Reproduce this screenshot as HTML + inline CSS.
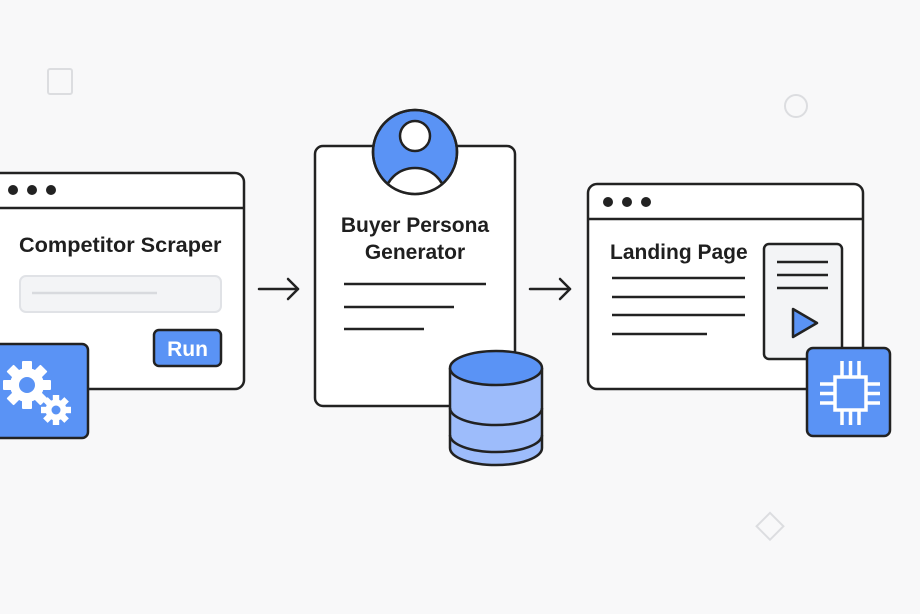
<!DOCTYPE html>
<html><head><meta charset="utf-8"><style>
html,body{margin:0;padding:0;background:#f8f8f9;}
svg{display:block}
text{font-family:"Liberation Sans",sans-serif;font-weight:bold;fill:#1f1f1f}
</style></head><body>
<svg width="920" height="614" viewBox="0 0 920 614" xmlns="http://www.w3.org/2000/svg">
<defs><clipPath id="av"><circle cx="415" cy="152" r="41"/></clipPath></defs>
<rect width="920" height="614" fill="#f8f8f9"/>
<rect x="48" y="69" width="24" height="25" rx="2" fill="none" stroke="#dcdde0" stroke-width="2"/>
<circle cx="796" cy="106" r="11" fill="none" stroke="#dcdde0" stroke-width="2"/>
<rect x="760" y="517" width="19" height="19" fill="none" stroke="#dcdde0" stroke-width="2" transform="rotate(45 770 527)"/>

<rect x="-10" y="173" width="254" height="216" rx="9" fill="#fff" stroke="#222" stroke-width="2.5"/>
<line x1="-10" y1="208" x2="244" y2="208" stroke="#222" stroke-width="2.5"/>
<circle cx="13" cy="190" r="5" fill="#222"/><circle cx="32" cy="190" r="5" fill="#222"/><circle cx="51" cy="190" r="5" fill="#222"/>
<text x="19" y="252" font-size="21.7">Competitor Scraper</text>
<rect x="20" y="276" width="201" height="36" rx="6" fill="#f3f4f6" stroke="#e0e2e6" stroke-width="2"/>
<line x1="32" y1="293" x2="157" y2="293" stroke="#d8dade" stroke-width="2.5"/>
<rect x="154" y="330" width="67" height="36" rx="5" fill="#5a93f5" stroke="#222" stroke-width="2.5"/>
<text x="187.5" y="356" font-size="21" text-anchor="middle" style="fill:#fff">Run</text>
<rect x="-10" y="344" width="98" height="94" rx="6" fill="#5a93f5" stroke="#222" stroke-width="2.5"/>
<g fill="#fff">
<circle cx="27" cy="385" r="17"/>
<g transform="translate(27 385)">
<rect x="-5" y="-24" width="10" height="48" rx="1"/>
<rect x="-5" y="-24" width="10" height="48" rx="1" transform="rotate(45)"/>
<rect x="-5" y="-24" width="10" height="48" rx="1" transform="rotate(90)"/>
<rect x="-5" y="-24" width="10" height="48" rx="1" transform="rotate(135)"/>
</g>
<circle cx="56" cy="410" r="10.5"/>
<g transform="translate(56 410)">
<rect x="-3.2" y="-15" width="6.4" height="30"/>
<rect x="-3.2" y="-15" width="6.4" height="30" transform="rotate(45)"/>
<rect x="-3.2" y="-15" width="6.4" height="30" transform="rotate(90)"/>
<rect x="-3.2" y="-15" width="6.4" height="30" transform="rotate(135)"/>
</g>
</g>
<circle cx="27" cy="385" r="8" fill="#5a93f5"/>
<circle cx="56" cy="410" r="4.5" fill="#5a93f5"/>

<g stroke="#222" stroke-width="2.5" fill="none" stroke-linecap="round" stroke-linejoin="round">
<line x1="259" y1="289" x2="298" y2="289"/><polyline points="288,279 298,289 288,299"/>
<line x1="530" y1="289" x2="570" y2="289"/><polyline points="560,279 570,289 560,299"/>
</g>

<rect x="315" y="146" width="200" height="260" rx="8" fill="#fff" stroke="#222" stroke-width="2.5"/>
<circle cx="415" cy="152" r="42" fill="#5a93f5" stroke="#222" stroke-width="2.5"/>
<g clip-path="url(#av)">
<ellipse cx="415" cy="196" rx="30" ry="28" fill="#fff" stroke="#222" stroke-width="2.5"/>
</g>
<circle cx="415" cy="152" r="42" fill="none" stroke="#222" stroke-width="2.5"/>
<circle cx="415" cy="136" r="15" fill="#fff" stroke="#222" stroke-width="2.5"/>
<text x="415" y="232" font-size="21" text-anchor="middle">Buyer Persona</text>
<text x="415" y="259" font-size="21" text-anchor="middle">Generator</text>
<g stroke="#222" stroke-width="2.5">
<line x1="344" y1="284" x2="486" y2="284"/>
<line x1="344" y1="307" x2="454" y2="307"/>
<line x1="344" y1="329" x2="424" y2="329"/>
</g>
<g stroke="#222" stroke-width="2.5">
<path d="M450 368 L450 448 A46 17 0 0 0 542 448 L542 368" fill="#9dbcfb"/>
<path d="M450 408 A46 17 0 0 0 542 408" fill="none"/>
<path d="M450 435 A46 17 0 0 0 542 435" fill="none"/>
<ellipse cx="496" cy="368" rx="46" ry="17" fill="#5a93f5"/>
</g>

<rect x="588" y="184" width="275" height="205" rx="9" fill="#fff" stroke="#222" stroke-width="2.5"/>
<line x1="588" y1="219" x2="863" y2="219" stroke="#222" stroke-width="2.5"/>
<circle cx="608" cy="202" r="5" fill="#222"/><circle cx="627" cy="202" r="5" fill="#222"/><circle cx="646" cy="202" r="5" fill="#222"/>
<text x="610" y="259" font-size="21">Landing Page</text>
<g stroke="#222" stroke-width="2.5">
<line x1="612" y1="278" x2="745" y2="278"/>
<line x1="612" y1="297" x2="745" y2="297"/>
<line x1="612" y1="315" x2="745" y2="315"/>
<line x1="612" y1="334" x2="707" y2="334"/>
</g>
<rect x="764" y="244" width="78" height="115" rx="5" fill="#f3f4f6" stroke="#222" stroke-width="2.5"/>
<g stroke="#222" stroke-width="2.5">
<line x1="777" y1="262" x2="828" y2="262"/>
<line x1="777" y1="275" x2="828" y2="275"/>
<line x1="777" y1="288" x2="828" y2="288"/>
</g>
<polygon points="793,309 793,337 817,323" fill="#5a93f5" stroke="#222" stroke-width="2.5" stroke-linejoin="round"/>
<rect x="807" y="348" width="83" height="88" rx="6" fill="#5a93f5" stroke="#222" stroke-width="2.5"/>
<g stroke="#fff" stroke-width="3.5" fill="none">
<rect x="835" y="377" width="31" height="33"/>
<line x1="842" y1="377" x2="842" y2="361"/><line x1="850.5" y1="377" x2="850.5" y2="361"/><line x1="859" y1="377" x2="859" y2="361"/>
<line x1="842" y1="410" x2="842" y2="425"/><line x1="850.5" y1="410" x2="850.5" y2="425"/><line x1="859" y1="410" x2="859" y2="425"/>
<line x1="835" y1="384" x2="820" y2="384"/><line x1="835" y1="393.5" x2="820" y2="393.5"/><line x1="835" y1="403" x2="820" y2="403"/>
<line x1="866" y1="384" x2="880" y2="384"/><line x1="866" y1="393.5" x2="880" y2="393.5"/><line x1="866" y1="403" x2="880" y2="403"/>
</g>
</svg>
</body></html>
